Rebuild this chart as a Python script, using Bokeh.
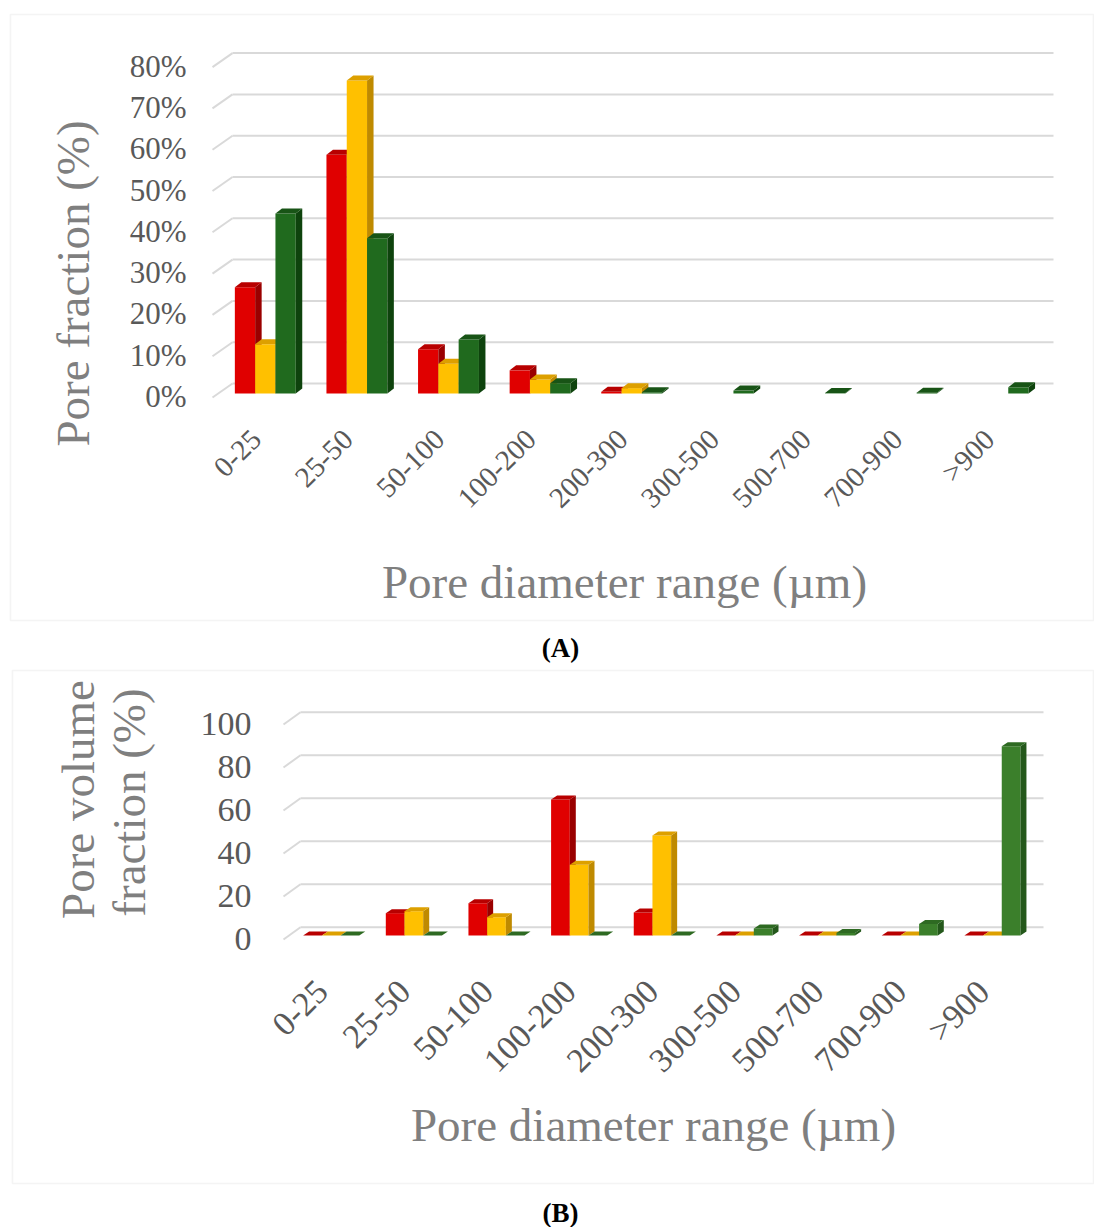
import math
from bokeh.plotting import figure
from bokeh.models import Range1d, BoxAnnotation
from bokeh.layouts import column
from bokeh.embed import file_html
from bokeh.resources import INLINE
from bokeh.core.properties import value

# ---------------- data ----------------
categories = ["0-25", "25-50", "50-100", "100-200", "200-300",
              "300-500", "500-700", "700-900", ">900"]

# Panel A: pore fraction (%)
a_red = [25.7, 57.8, 10.7, 5.6, 0.4, None, None, None, None]
a_yellow = [11.9, 75.8, 7.2, 3.4, 1.3, None, None, None, None]
a_green = [43.6, 37.6, 13.1, 2.5, 0.3, 0.7, 0.1, 0.2, 1.5]
a_ticks = [0, 10, 20, 30, 40, 50, 60, 70, 80]
a_tick_labels = ["0%", "10%", "20%", "30%", "40%", "50%", "60%", "70%", "80%"]

# Panel B: pore volume fraction (%)
b_red = [0, 10.4, 15.0, 63.3, 10.7, 0, 0, 0, 0]
b_yellow = [0, 11.3, 8.5, 32.9, 46.5, 0, 0, 0, 0]
b_green = [0, 0, 0, 0, 0, 3.3, 1.2, 5.4, 88.0]
b_ticks = [0, 20, 40, 60, 80, 100]
b_tick_labels = ["0", "20", "40", "60", "80", "100"]

# ---------------- styles ----------------
FONT = "Liberation Serif"
TICK_COLOR = "#595959"
TITLE_COLOR = "#7F7F7F"
GRID_COLOR = "#D9D9D9"
RED = ("#E00000", "#9A0000", "#B80000")
YEL = ("#FFC000", "#BF8A00", "#DDA000")
GRN_A = ("#206A1E", "#0E430D", "#185416")
GRN_B = ("#3B7F2B", "#24581B", "#2E6A22")


class Panel:
    """A figure whose frame covers the whole canvas; layout given in pixels."""
    def __init__(self, fig_h, box, x0px, xstep, y0px, yscale):
        self.fig_h = fig_h
        self.x0px, self.xstep, self.y0px, self.yscale = x0px, xstep, y0px, yscale
        self.p = figure(width=1094, height=fig_h, output_backend="svg",
                        toolbar_location=None, title=None,
                        x_axis_type=None, y_axis_type=None,
                        min_border=0, min_border_left=0, min_border_right=0,
                        min_border_top=0, min_border_bottom=0,
                        x_range=Range1d(self.px2x(0), self.px2x(1094)),
                        y_range=Range1d(self.px2y(fig_h), self.px2y(0)))
        self.p.grid.visible = False
        self.p.outline_line_color = None
        self.p.background_fill_color = "white"
        self.p.border_fill_color = "white"
        bl, bt, br, bb = box
        self.p.add_layout(BoxAnnotation(left=self.px2x(bl), right=self.px2x(br),
                                        top=self.px2y(bt), bottom=self.px2y(bb),
                                        fill_alpha=0, line_color=GRID_COLOR,
                                        line_width=1.6, level="underlay"))

    def px2x(self, px):
        return (px - self.x0px) / self.xstep

    def px2y(self, py):
        return (self.y0px - py) / self.yscale

    def dx(self, d):
        return d / self.xstep

    def dy(self, d):
        return d / self.yscale


def draw_walls(P, ticks, wall_left_px, wall_front_px, wall_right_px, back_off_px, front_off_px):
    p = P.p
    xl = P.px2x(wall_left_px)
    xf = P.px2x(wall_front_px)
    xr = P.px2x(wall_right_px)
    yb = [t + P.dy(back_off_px) for t in ticks]
    yf = [t - P.dy(front_off_px) for t in ticks]
    p.segment(x0=[xl] * len(ticks), y0=yb, x1=[xr] * len(ticks), y1=yb,
              line_color=GRID_COLOR, line_width=2)
    p.segment(x0=[xf] * len(ticks), y0=yf, x1=[xl] * len(ticks), y1=yb,
              line_color=GRID_COLOR, line_width=2)


def draw_bars(P, series, colors, bar_px, ddx_px, ddy_px):
    p = P.p
    bw = P.dx(bar_px)
    ddx = P.dx(ddx_px)
    ddy = P.dy(ddy_px)
    for s, (vals, (cf, cs, ct)) in enumerate(zip(series, colors)):
        L, R, T, B = [], [], [], []
        sx, sy, tx, ty = [], [], [], []
        for i, v in enumerate(vals):
            if v is None:
                continue
            x0 = i + (s - 1.5) * bw
            x1 = x0 + bw
            L.append(x0); R.append(x1); T.append(v); B.append(0)
            sx.append([x1, x1 + ddx, x1 + ddx, x1])
            sy.append([0, ddy, v + ddy, v])
            tx.append([x0, x1, x1 + ddx, x0 + ddx])
            ty.append([v, v, v + ddy, v + ddy])
        p.quad(left=L, right=R, top=T, bottom=B, fill_color=cf, line_color=None)
        p.patches(xs=sx, ys=sy, fill_color=cs, line_color=None)
        p.patches(xs=tx, ys=ty, fill_color=ct, line_color=None)


def draw_texts(P, ticks, tick_labels, tick_right_px, tick_off_px, tick_size,
               xlab_off_px, xlab_y_px, xlab_size):
    p = P.p
    p.text(x=[P.px2x(tick_right_px)] * len(ticks),
           y=[t - P.dy(tick_off_px) for t in ticks],
           text=tick_labels, text_align="right", text_baseline="middle",
           text_font=value(FONT), text_font_size=tick_size, text_color=TICK_COLOR)
    n = len(categories)
    p.text(x=[i - P.dx(xlab_off_px) for i in range(n)],
           y=[P.px2y(xlab_y_px)] * n,
           text=categories, angle=math.pi / 4, text_align="right",
           text_baseline="middle", text_font=value(FONT),
           text_font_size=xlab_size, text_color=TICK_COLOR)


def title_text(P, px, py, txt, angle=0.0, size="47px"):
    P.p.text(x=[P.px2x(px)], y=[P.px2y(py)], text=[txt], angle=angle,
             text_align="center", text_baseline="middle",
             text_font=value(FONT), text_font_size=size, text_color=TITLE_COLOR)


def caption(P, px, py, txt):
    P.p.text(x=[P.px2x(px)], y=[P.px2y(py)], text=[txt],
             text_align="center", text_baseline="middle",
             text_font=value(FONT), text_font_style="bold",
             text_font_size="27px", text_color="black")


# ---------------- panel A ----------------
HA = 667
A = Panel(HA, (10, 14, 1093, 620), x0px=264.8, xstep=91.6, y0px=393, yscale=4.13)
draw_walls(A, a_ticks, 232, 212, 1053, back_off_px=10, front_off_px=4)
draw_bars(A, [a_red, a_yellow, a_green], [RED, YEL, GRN_A], 20.3, 6.5, 5)
draw_texts(A, a_ticks, a_tick_labels, 186, 3, "31px", 9, 434, "29px")
title_text(A, 72, 283, "Pore fraction (%)", angle=math.pi / 2)
title_text(A, 624, 581, "Pore diameter range (µm)")
caption(A, 560, 647, "(A)")

# ---------------- panel B ----------------
OFF = HA
B = Panel(1227 - HA, (12, 670 - OFF, 1093, 1183 - OFF), x0px=330.7, xstep=82.65,
          y0px=935 - OFF, yscale=2.15)
draw_walls(B, b_ticks, 300, 283, 1043, back_off_px=8.3, front_off_px=4)
draw_bars(B, [b_red, b_yellow, b_green], [RED, YEL, GRN_B], 18.7, 6, 4)
draw_texts(B, b_ticks, b_tick_labels, 251, 3, "34px", 9, 985.5 - OFF, "34px")
title_text(B, 77, 799 - OFF, "Pore volume", angle=math.pi / 2)
title_text(B, 128, 802 - OFF, "fraction (%)", angle=math.pi / 2)
title_text(B, 653, 1124 - OFF, "Pore diameter range (µm)")
caption(B, 560, 1212 - OFF, "(B)")

layout = column(A.p, B.p, spacing=0)
open("out.html", "w").write(file_html(layout, INLINE))
